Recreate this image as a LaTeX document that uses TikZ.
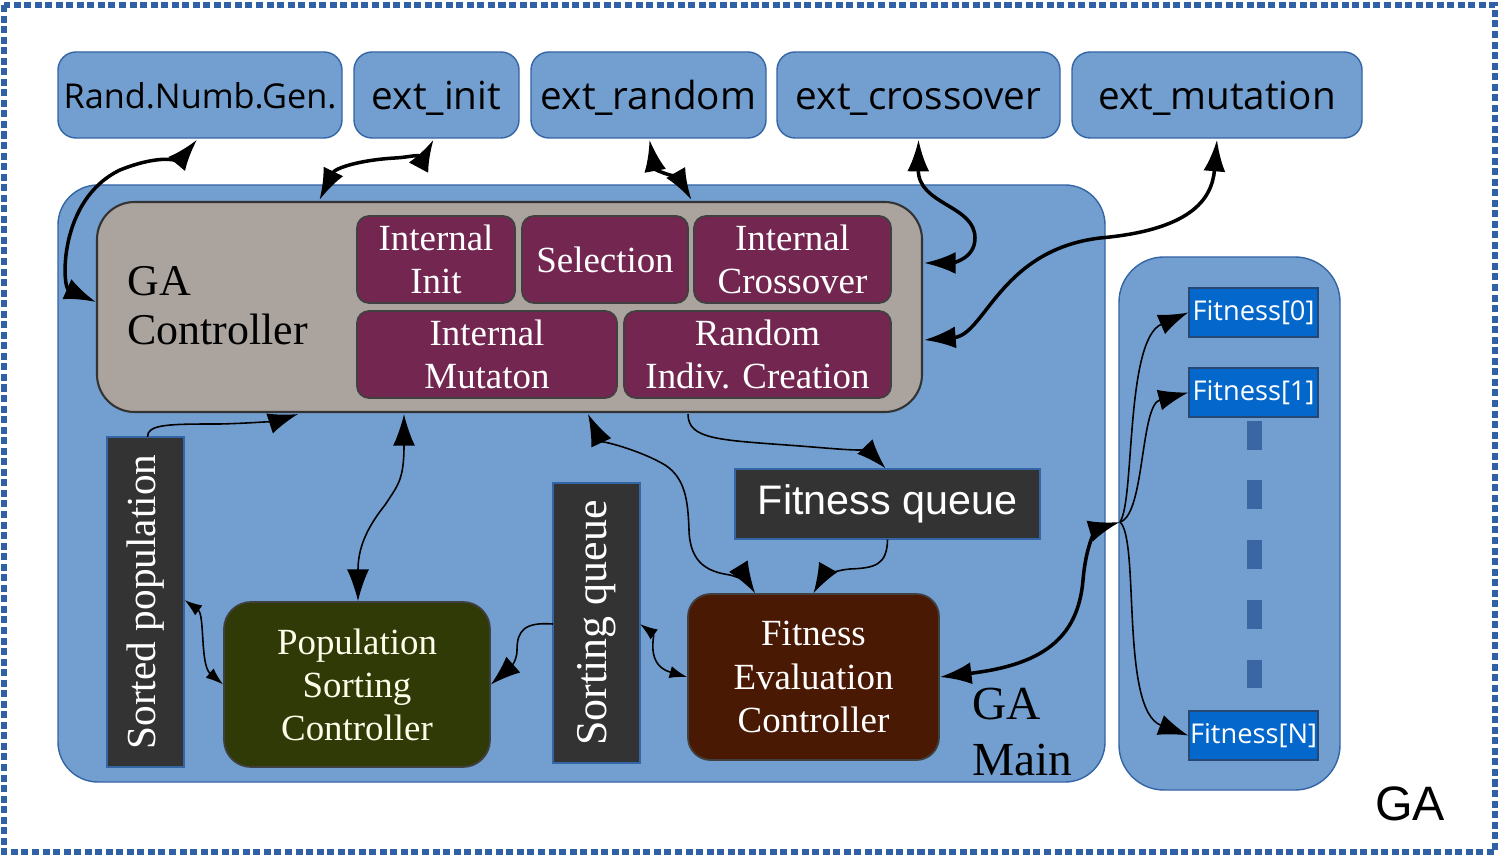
\documentclass[tikz,border=0pt]{standalone}
\usepackage{fontspec}
\setmainfont{Liberation Serif}
\newfontfamily\ubu{Open Sans}
\newfontfamily\ari{Liberation Sans}
\usetikzlibrary{arrows.meta,calc}
\definecolor{lb}{HTML}{729FCF}
\definecolor{lbd}{HTML}{3465A4}
\definecolor{taupe}{HTML}{ABA39D}
\definecolor{purp}{HTML}{732650}
\definecolor{olivebox}{HTML}{2F3A06}
\definecolor{brn}{HTML}{4A1904}
\definecolor{dq}{HTML}{333333}
\definecolor{fb}{HTML}{0467CB}
\definecolor{bordc}{HTML}{3060A5}
\definecolor{dotc}{HTML}{3A67A3}
\newcommand\bx[7]{\node[#6, minimum width={(#4-#2)*0.02cm}, minimum height={(#5-#3)*0.02cm}] (#1) at ({(#2+#4)/2},{(#3+#5)/2}) {#7};}
\begin{document}
\begin{tikzpicture}[x=0.02cm,y=-0.02cm,
  extbox/.style={draw=lbd, line width=0.8pt, fill=lb, rounded corners=0.36cm, inner sep=0pt, text height=19pt, text depth=2pt, font=\ubu\fontsize{22}{24}\selectfont},
  cont/.style={draw=lbd, line width=0.8pt, fill=lb, inner sep=0pt},
  ctrl/.style={draw=black!80, line width=1.2pt, fill=taupe, rounded corners=0.75cm, inner sep=0pt},
  pbox/.style={draw=black!75, line width=1pt, fill=purp, rounded corners=0.24cm, inner sep=0pt, text=white, align=center, font=\fontsize{21}{24.5}\selectfont},
  cbox/.style={draw=black!75, line width=1pt, inner sep=0pt, align=center, font=\fontsize{21}{24.5}\selectfont},
  queue/.style={draw=lbd, line width=0.8pt, fill=dq, inner sep=0pt, text=white},
  fitbox/.style={draw=lbd!70!black, line width=0.8pt, fill=fb, inner sep=0pt, text=white, font=\ubu\fontsize{15.5}{18}\selectfont},
  conA/.style={line width=2pt},
  conB/.style={line width=0.9pt},
  two/.style={arrows={Latex[length=18pt,width=12.5pt]-Latex[length=18pt,width=12.5pt]}},
  one/.style={arrows={-Latex[length=17pt,width=12pt]}},
  twosmall/.style={arrows={Latex[length=10pt,width=7pt]-Latex[length=10pt,width=7pt]}}
]
\useasboundingbox (0,0) rectangle (1500,857);
\fill[white] (0,0) rectangle (1500,857);
\draw[bordc, line width=3.5pt, dash pattern=on 4pt off 2pt] (4,5) rectangle (1495,852);

% containers
\bx{main}{58}{185}{1105}{782}{cont, rounded corners=0.8cm}{}
\bx{farr}{1119}{257}{1340}{790}{cont, rounded corners=0.9cm}{}

% top boxes
\bx{rng}{58}{52}{342}{138}{extbox, text height=17pt, font=\ubu\fontsize{19.5}{22}\selectfont}{Rand.Numb.Gen.}
\bx{einit}{354}{52}{519}{138}{extbox}{ext\_init}
\bx{erand}{531}{52}{766}{138}{extbox}{ext\_random}
\bx{ecross}{777}{52}{1060}{138}{extbox}{ext\_crossover}
\bx{emut}{1072}{52}{1362}{138}{extbox}{ext\_mutation}

% GA controller
\bx{gac}{97}{202}{922}{412}{ctrl}{}
\node[anchor=west, align=left, inner sep=0pt, font=\fontsize{25}{28}\selectfont] (gactext) at (127,306) {GA\\Controller};
\bx{iinit}{357}{216}{515}{303}{pbox}{Internal\\Init}
\bx{sel}{522}{216}{688}{303}{pbox}{Selection}
\bx{icross}{694}{216}{891}{303}{pbox}{Internal\\Crossover}
\bx{imut}{357}{311}{617}{398}{pbox}{Internal\\Mutaton}
\bx{rnd}{624}{311}{891}{398}{pbox}{Random\\Indiv. Creation}

% queues and controllers
\node[queue, rotate=90, minimum width=330*0.02cm, minimum height=77*0.02cm, font=\fontsize{23.5}{26}\selectfont] (sp) at (145.5,602) {Sorted population};
\node[queue, rotate=90, minimum width=280*0.02cm, minimum height=87*0.02cm, font=\fontsize{25}{27}\selectfont] (sq) at (596.5,623) {Sorting queue};
\bx{psc}{224}{602}{490}{767}{cbox, fill=olivebox, rounded corners=0.54cm, text=yellow!8}{Population\\Sorting\\Controller}
\bx{fec}{688}{594}{939}{760}{cbox, fill=brn, rounded corners=0.45cm, text=white}{Fitness\\Evaluation\\Controller}
\bx{fq}{735}{469}{1040}{539}{queue, font=\ari\fontsize{23.5}{26}\selectfont}{Fitness queue}
\node[anchor=west, align=left, inner sep=0pt, font=\fontsize{27}{32}\selectfont] (gamain) at (972,732) {GA\\Main};

% fitness array
\bx{f0}{1189}{288}{1318}{337}{fitbox}{Fitness[0]}
\bx{f1}{1189}{368}{1318}{417}{fitbox}{Fitness[1]}
\bx{fN}{1189}{711}{1318}{760}{fitbox}{Fitness[N]}
\draw[dotc, line width=8.5pt, dash pattern=on 16.4pt off 17.6pt] ($(f1.south)+(1,3)$) -- ($(fN.north)+(1,-16)$);
\coordinate (hub) at (1120,522);

\node[font=\ari\fontsize{27.5}{30}\selectfont, inner sep=0pt] (galabel) at (1410,804) {GA};

% connectors
\draw[conA,two] ($(gac.west)+(0,-5)$) .. controls (62,287) and (58,200) .. (120,170) .. controls (160,154) and (180,160) .. ($(rng.south)+(-3,1)$);
\draw[conA,two] ($(gac.north)+(-190,-1)$) .. controls (335,168) and (360,160) .. (395,158) .. controls (415,157) and (428,150) .. ($(einit.south)+(-3,1)$);
\draw[conA,two] ($(erand.south)+(1,1)$) .. controls (655,170) and (680,180) .. ($(gac.north)+(182,-1)$);
\draw[conA,two] ($(ecross.south)+(0,1)$) .. controls (918,205) and (975,205) .. (975,238) .. controls (975,260) and (950,263) .. ($(gac.east)+(1,-44)$);
\draw[conA,two] ($(gac.east)+(1,33)$) .. controls (985,335) and (1000,250) .. (1100,238) .. controls (1190,230) and (1212,200) .. ($(emut.south)+(0,1)$);
\draw[conB,one] ($(sp)+(2,-165)$) .. controls (147,424) and (170,424) .. (220,424) .. controls (260,423) and (280,420) .. ($(gac.south)+(-211.5,1)$);
\draw[conB,two] ($(gac.south)+(-105.5,1)$) .. controls (404,480) and (398,485) .. (385,505) .. controls (365,530) and (358,550) .. ($(psc.north)+(1,0)$);
\draw[conB,twosmall] ($(sp)+(39,-2)$) .. controls (205,615) and (200,665) .. (psc.west);
\draw[conB,one] ($(sq)+(-43.5,1)$) .. controls (525,622) and (517,630) .. (517,650) .. controls (517,665) and (505,672) .. (psc.east);
\draw[conB,twosmall] ($(sq)+(43.5,1)$) .. controls (655,635) and (645,665) .. (fec.west);
\draw[conB,two] ($(gac.south)+(78.5,1)$) .. controls (600,440) and (640,450) .. (665,465) .. controls (685,478) and (688,500) .. (689,530) .. controls (690,565) and (710,572) .. (730,575) .. controls (742,578) and (750,585) .. ($(fec.north)+(-58.5,0)$);
\draw[conB,one] ($(gac.south)+(178.5,1)$) .. controls (688,440) and (720,440) .. (800,446) .. controls (850,450) and (870,452) .. ($(fq.north)+(-2,0)$);
\draw[conB,one] (fq.south) .. controls (887,565) and (875,568) .. (850,569) .. controls (835,570) and (822,578) .. (fec.north);
\draw[conA,two] (fec.east) .. controls (1040,665) and (1078,640) .. (1083,580) .. controls (1087,535) and (1100,528) .. (hub);
\draw[conB,one] (hub) .. controls (1135,500) and (1125,340) .. (f0.west);
\draw[conB,one] (hub) .. controls (1145,515) and (1140,405) .. (f1.west);
\draw[conB,one] (hub) .. controls (1140,540) and (1120,710) .. (fN.west);
\end{tikzpicture}
\end{document}
